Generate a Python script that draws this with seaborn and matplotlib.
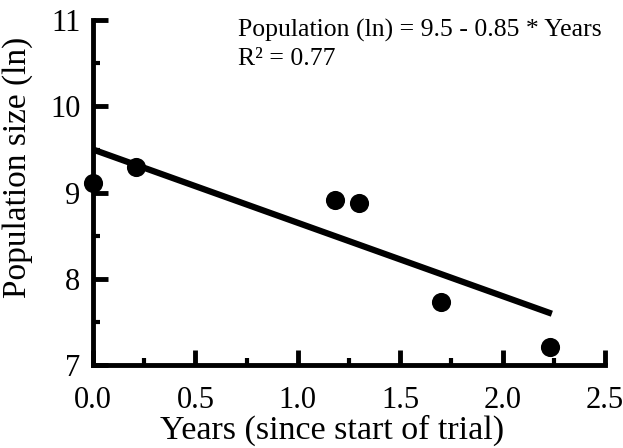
import matplotlib
matplotlib.use("Agg")
import matplotlib.pyplot as plt
import seaborn as sns
import pandas as pd
from matplotlib.ticker import MultipleLocator

years = [0.0, 0.21, 1.18, 1.30, 1.70, 2.23]
population_ln = [9.11, 9.30, 8.92, 8.88, 7.73, 7.21]
intercept = 9.5
slope = -0.85
line_x = [0.0, 2.24]
x_ticks = [0.0, 0.5, 1.0, 1.5, 2.0, 2.5]
x_ticklabels = ["0.0", "0.5", "1.0", "1.5", "2.0", "2.5"]
y_ticks = [7, 8, 9, 10, 11]
y_ticklabels = ["7", "8", "9", "10", "11"]

sns.set_theme(style="ticks")
plt.rcParams['font.family'] = ['Liberation Serif', 'DejaVu Serif']

df = pd.DataFrame({"Years": years, "Pop": population_ln})
line_df = pd.DataFrame({"Years": line_x,
                        "Pop": [intercept + slope * x for x in line_x]})

fig = plt.figure(figsize=(6.23, 4.48), dpi=100)
ax = fig.add_axes([0.1493, 0.185, 0.822, 0.770])

sns.lineplot(data=line_df, x="Years", y="Pop", ax=ax, color="black",
             linewidth=4.5, solid_capstyle="butt")
sns.scatterplot(data=df, x="Years", y="Pop", ax=ax, color="black",
                s=190, edgecolor="black", linewidth=0, clip_on=False, zorder=5)

ax.set_xlim(0, 2.5)
ax.set_ylim(7, 11)
ax.set_xticks(x_ticks)
ax.set_xticklabels(x_ticklabels)
ax.set_yticks(y_ticks)
ax.set_yticklabels(y_ticklabels)
ax.xaxis.set_minor_locator(MultipleLocator(0.25))
ax.yaxis.set_minor_locator(MultipleLocator(0.5))

for s in ["top", "right"]:
    ax.spines[s].set_visible(False)
for s in ["left", "bottom"]:
    ax.spines[s].set_linewidth(3.5)
    ax.spines[s].set_color("black")
    ax.spines[s].set_capstyle("projecting")

ax.tick_params(axis="both", which="major", direction="in", length=11,
               width=3.5, color="black", labelsize=22, labelcolor="black")
ax.tick_params(axis="both", which="minor", direction="in", length=5,
               width=3.0, color="black")
ax.tick_params(axis="x", which="major", pad=15)
ax.tick_params(axis="y", which="major", pad=9)

ax.set_xlabel("Years (since start of trial)", fontsize=24.5, color="black")
ax.xaxis.set_label_coords(0.467, -0.143)
ax.set_ylabel("Population size (ln)", fontsize=24, color="black")
ax.yaxis.set_label_coords(-0.117, 0.574)

ax.text(0.283, 0.9536, "Population (ln) = 9.5 - 0.85 * Years",
        transform=ax.transAxes, fontsize=18.5, va="baseline", ha="left",
        color="black")
ax.text(0.283, 0.8696, "R\u00b2 = 0.77",
        transform=ax.transAxes, fontsize=18.5, va="baseline", ha="left",
        color="black")

fig.savefig("out.png", dpi=100)
